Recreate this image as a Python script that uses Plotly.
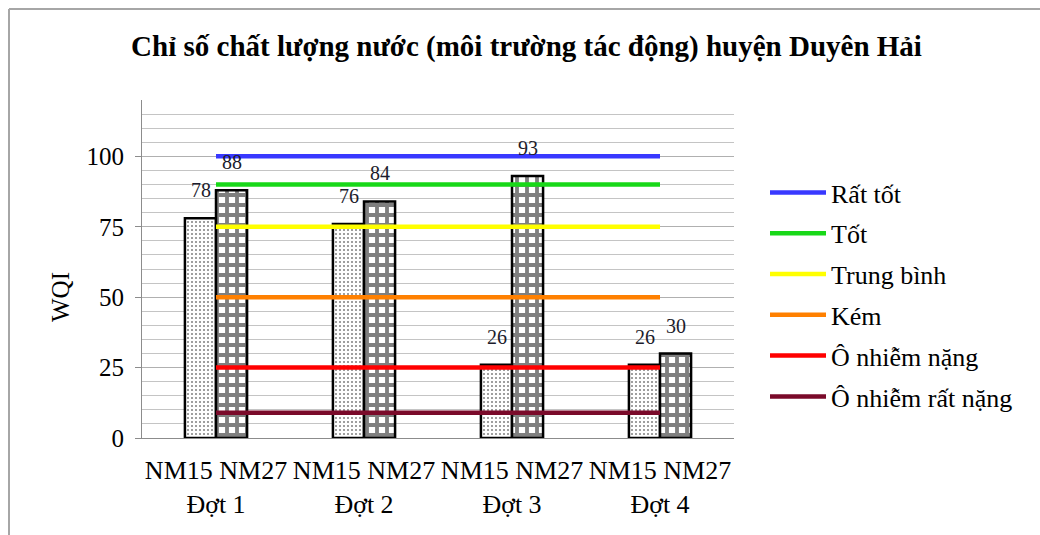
import plotly.graph_objects as go

# WQI per sampling round (Đợt) at the two monitoring sites
periods = ["Đợt 1", "Đợt 2", "Đợt 3", "Đợt 4"]
sites = ["NM15", "NM27"]
wqi_nm15 = [78, 76, 26, 26]
wqi_nm27 = [88, 84, 93, 30]

# WQI classification reference levels
class_names = ["Rất tốt", "Tốt", "Trung bình", "Kém", "Ô nhiễm nặng", "Ô nhiễm rất nặng"]
class_colors = ["#3838ff", "#18d818", "#ffff00", "#ff8000", "#ff0000", "#7a0a2a"]
class_levels = [
    [100, 100, 100, 100],
    [90, 90, 90, 90],
    [75, 75, 75, 75],
    [50, 50, 50, 50],
    [25, 25, 25, 25],
    [9, 9, 9, 9],
]
y_ticks = [0, 25, 50, 75, 100]

title_text = "Chỉ số chất lượng nước (môi trường tác động) huyện Duyên Hải"
y_title = "WQI"

# canvas and plot-area geometry (px)
W, H = 1040, 535
L, R, T, B = 142, 734, 100, 438
FONT = "Liberation Serif"


def fx(px):
    return (px - L) / (R - L)


def fy(py):
    return (B - py) / (B - T)


fig = go.Figure()

fig.add_trace(go.Bar(
    x=periods, y=wqi_nm15, name=sites[0], showlegend=False,
    marker=dict(color="white", line=dict(color="black", width=2.5),
                pattern=dict(shape=".", fgcolor="black", bgcolor="white",
                             size=4, solidity=0.2)),
))
fig.add_trace(go.Bar(
    x=periods, y=wqi_nm27, name=sites[1], showlegend=False,
    marker=dict(color="white", line=dict(color="black", width=2.5),
                pattern=dict(shape="+", fgcolor="black", bgcolor="white",
                             size=10, solidity=0.62)),
))

for i, (name, color, level) in enumerate(zip(class_names, class_colors, class_levels)):
    fig.add_trace(go.Scatter(
        x=periods, y=level, name=name, mode="lines",
        line=dict(color=color, width=4.5),
        legendgroup="g%d" % i,
    ))

# value labels above each bar
annotations = []
for values, dx in ((wqi_nm15, -15.5), (wqi_nm27, 15.5)):
    for p, v in zip(periods, values):
        annotations.append(dict(
            x=p, y=v, xref="x", yref="y", text=str(v), showarrow=False,
            xshift=dx, yshift=15, yanchor="bottom",
            font=dict(family=FONT, size=20, color="#1c1c2c"),
        ))

annotations.append(dict(
    x=fx(60), y=fy(297), xref="paper", yref="paper", text=y_title,
    textangle=-90, showarrow=False, xanchor="center", yanchor="middle",
    font=dict(family=FONT, size=25, color="black"),
))

tick_text = [" ".join(sites) + "<br>" + p for p in periods]

border = dict(color="#a6a6a6", width=2)
shapes = [
    dict(type="line", xref="paper", yref="paper", x0=fx(9), x1=fx(W), y0=fy(9), y1=fy(9), line=border),
    dict(type="line", xref="paper", yref="paper", x0=fx(9), x1=fx(9), y0=fy(9), y1=fy(H), line=border),
]

fig.update_layout(
    width=W, height=H,
    margin=dict(l=L, r=W - R, t=T, b=H - B),
    paper_bgcolor="white", plot_bgcolor="white",
    barmode="group", bargap=0.58, bargroupgap=0,
    title=dict(text=title_text, x=526.5 / W, xanchor="center",
               y=1 - 46 / H, yanchor="middle", xref="container", yref="container",
               font=dict(family=FONT, size=29, color="black", weight="bold")),
    font=dict(family=FONT, size=26, color="black"),
    xaxis=dict(
        tickmode="array", tickvals=periods, ticktext=tick_text,
        showline=True, linecolor="#8c8c8c", linewidth=1, ticks="",
        showgrid=False, tickfont=dict(family=FONT, size=26, color="black"),
        ticklabelstandoff=9, fixedrange=True,
    ),
    yaxis=dict(
        range=[0, 120], tickmode="array", tickvals=y_ticks,
        showline=True, linecolor="#8c8c8c", linewidth=1,
        ticks="outside", ticklen=6, tickcolor="#8c8c8c",
        showgrid=True, gridcolor="#b0b0b0", gridwidth=1,
        minor=dict(dtick=5, showgrid=True, gridcolor="#c4c4c4", gridwidth=1, ticks=""),
        zeroline=False, tickfont=dict(family=FONT, size=25, color="black"),
        ticklabelstandoff=6,
    ),
    legend=dict(
        x=fx(765), y=fy(169), xanchor="left", yanchor="top",
        font=dict(family=FONT, size=26, color="black"),
        traceorder="grouped", tracegroupgap=4, itemwidth=56,
        bgcolor="rgba(0,0,0,0)",
    ),
    annotations=annotations,
    shapes=shapes,
)

fig.write_html("out.html")
